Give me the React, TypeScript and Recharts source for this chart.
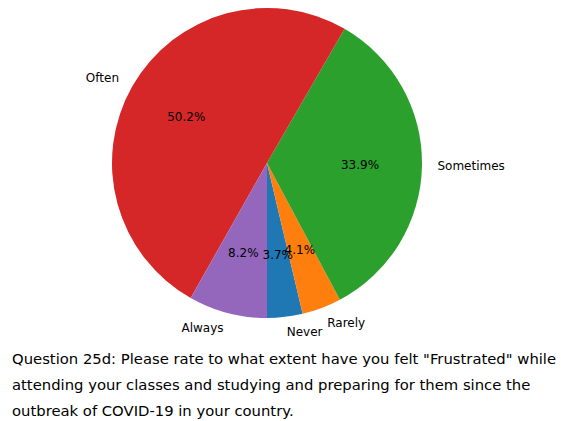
import React from "react";
import { PieChart, Pie, Cell } from "recharts";

// answers to question 25d, in the order matplotlib drew them
const categories = ["Never", "Rarely", "Sometimes", "Often", "Always"];
const shares = [3.7, 4.1, 33.9, 50.2, 8.2];
const sliceColors = ["#1f77b4", "#ff7f0e", "#2ca02c", "#d62728", "#9467bd"];

// caption as it wraps in the notebook
const captionLines = [
  'Question 25d: Please rate to what extent have you felt "Frustrated" while',
  "attending your classes and studying and preparing for them since the",
  "outbreak of COVID-19 in your country.",
];

const pieData = categories.map((name, i) => ({ name, value: shares[i] }));

const RADIAN = Math.PI / 180;

// name outside the wedge (1.1 r), percentage inside (0.6 r), like matplotlib's autopct
const renderLabel = (props: any) => {
  const { cx, cy, midAngle, outerRadius, name, value } = props;
  const cos = Math.cos(-midAngle * RADIAN);
  const sin = Math.sin(-midAngle * RADIAN);
  const lx = cx + outerRadius * 1.1 * cos;
  const ly = cy + outerRadius * 1.1 * sin;
  const px = cx + outerRadius * 0.6 * cos;
  const py = cy + outerRadius * 0.6 * sin;
  return (
    <g>
      <text
        x={lx}
        y={ly}
        fill="#000"
        fontSize={12}
        fontFamily="DejaVu Sans"
        textAnchor={cos > 0 ? "start" : "end"}
        dominantBaseline="central"
      >
        {name}
      </text>
      <text
        x={px}
        y={py}
        fill="#000"
        fontSize={12}
        fontFamily="DejaVu Sans"
        textAnchor="middle"
        dominantBaseline="central"
      >
        {`${value.toFixed(1)}%`}
      </text>
    </g>
  );
};

const App = () => {
  return (
    <div
      style={{
        position: "absolute",
        left: 0,
        top: 0,
        width: 561,
        height: 421,
        background: "#fff",
      }}
    >
      <PieChart width={561} height={345} margin={{ top: 0, right: 0, bottom: 0, left: 0 }}>
        <Pie
          data={pieData}
          dataKey="value"
          nameKey="name"
          cx={267}
          cy={163}
          outerRadius={155}
          startAngle={270}
          endAngle={630}
          stroke="none"
          labelLine={false}
          label={renderLabel}
          isAnimationActive={false}
        >
          {pieData.map((d, i) => (
            <Cell key={d.name} fill={sliceColors[i]} />
          ))}
        </Pie>
      </PieChart>
      <div
        style={{
          position: "absolute",
          left: 12,
          top: 346,
          width: 549,
          fontFamily: "DejaVu Sans",
          fontSize: 14.8,
          lineHeight: "26px",
          color: "#000",
          whiteSpace: "nowrap",
        }}
      >
        {captionLines.map((line, i) => (
          <div key={i}>{line}</div>
        ))}
      </div>
    </div>
  );
};

export default App;
